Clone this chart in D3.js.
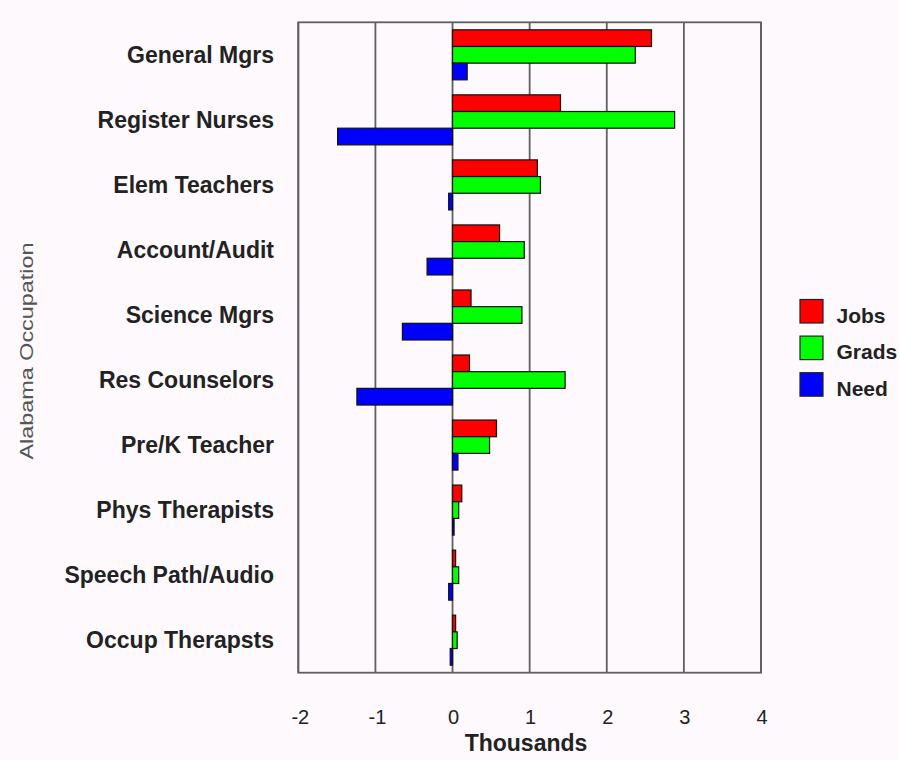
<!DOCTYPE html>
<html>
<head>
<meta charset="utf-8">
<script src="https://cdn.jsdelivr.net/npm/d3@7"></script>
<style>
  html, body { margin: 0; padding: 0; background: #fdf9fd; }
  svg { display: block; font-family: "Liberation Sans", Arial, Helvetica, sans-serif; }
</style>
</head>
<body>
<svg id="chart" width="899" height="760"></svg>
<script>
// data, in thousands
const occupations = ["General Mgrs", "Register Nurses", "Elem Teachers", "Account/Audit", "Science Mgrs",
  "Res Counselors", "Pre/K Teacher", "Phys Therapists", "Speech Path/Audio", "Occup Therapsts"];
const series = ["Jobs", "Grads", "Need"];
const jobs  = [2.58, 1.40, 1.10, 0.61, 0.24, 0.22, 0.57, 0.12, 0.04, 0.04];
const grads = [2.37, 2.88, 1.14, 0.93, 0.90, 1.46, 0.48, 0.08, 0.08, 0.06];
const need  = [0.19, -1.49, -0.05, -0.33, -0.65, -1.24, 0.07, 0.02, -0.05, -0.03];
const xTicks = [-2, -1, 0, 1, 2, 3, 4];
const colors = ["#ff0000", "#00ff00", "#0000ff"];

const values = [jobs, grads, need];
const rows = occupations.map((o, i) => ({name: o, vals: series.map((s, k) => ({key: s, v: values[k][i]}))}));

const mLeft = 298.3, mRight = 761, mTop = 22.3, mBottom = 672.7;

const svg = d3.select("#chart");

const x = d3.scaleLinear().domain([-2, 4]).range([mLeft, mRight]);
const y = d3.scaleBand().domain(occupations).range([mTop, mBottom]).padding(0);
const ys = d3.scaleBand().domain(series).range([0, y.bandwidth()]).paddingInner(0).paddingOuter(0.45);
const color = d3.scaleOrdinal().domain(series).range(colors);

// grid lines
svg.append("g")
  .selectAll("line")
  .data(xTicks)
  .join("line")
    .attr("x1", d => x(d)).attr("x2", d => x(d))
    .attr("y1", mTop).attr("y2", mBottom)
    .attr("stroke", "#606060")
    .attr("stroke-width", 1.8);

// plot box
svg.append("rect")
  .attr("x", mLeft).attr("y", mTop)
  .attr("width", mRight - mLeft).attr("height", mBottom - mTop)
  .attr("fill", "none")
  .attr("stroke", "#606060")
  .attr("stroke-width", 1.8);

// bars
svg.append("g")
  .selectAll("g")
  .data(rows)
  .join("g")
    .attr("transform", d => `translate(0,${y(d.name)})`)
  .selectAll("rect")
  .data(d => d.vals)
  .join("rect")
    .attr("x", d => x(Math.min(0, d.v)))
    .attr("y", d => ys(d.key))
    .attr("width", d => Math.abs(x(d.v) - x(0)))
    .attr("height", ys.bandwidth())
    .attr("fill", d => color(d.key))
    .attr("stroke", "#111")
    .attr("stroke-width", 1.2);

// category labels
svg.append("g")
  .selectAll("text")
  .data(occupations)
  .join("text")
    .attr("x", 274)
    .attr("y", d => y(d) + y.bandwidth() / 2)
    .attr("dy", "0.36em")
    .attr("text-anchor", "end")
    .attr("font-size", 23)
    .attr("font-weight", "bold")
    .attr("fill", "#222")
    .text(d => d);

// x tick labels
svg.append("g")
  .selectAll("text")
  .data(xTicks)
  .join("text")
    .attr("x", d => x(d) + (d < 0 ? 2 : 1))
    .attr("y", 724)
    .attr("text-anchor", "middle")
    .attr("font-size", 20)
    .attr("fill", "#222")
    .text(d => d);

svg.append("text")
  .attr("x", 526)
  .attr("y", 751)
  .attr("text-anchor", "middle")
  .attr("font-size", 23)
  .attr("font-weight", "bold")
  .attr("fill", "#222")
  .text("Thousands");

svg.append("text")
  .attr("transform", "translate(33,351) rotate(-90)")
  .attr("text-anchor", "middle")
  .attr("font-size", 18)
  .attr("fill", "#555")
  .attr("textLength", 217)
  .attr("lengthAdjust", "spacingAndGlyphs")
  .text("Alabama Occupation");

// legend
const legend = svg.append("g")
  .selectAll("g")
  .data(series)
  .join("g")
    .attr("transform", (d, i) => `translate(800,${299.5 + i * 36.6})`);

legend.append("rect")
  .attr("width", 23).attr("height", 23.5)
  .attr("fill", d => color(d))
  .attr("stroke", "#222")
  .attr("stroke-width", 1.2);

legend.append("text")
  .attr("x", 36.5)
  .attr("y", 23)
  .attr("font-size", 21)
  .attr("font-weight", "bold")
  .attr("fill", "#222")
  .text(d => d);
</script>
</body>
</html>
